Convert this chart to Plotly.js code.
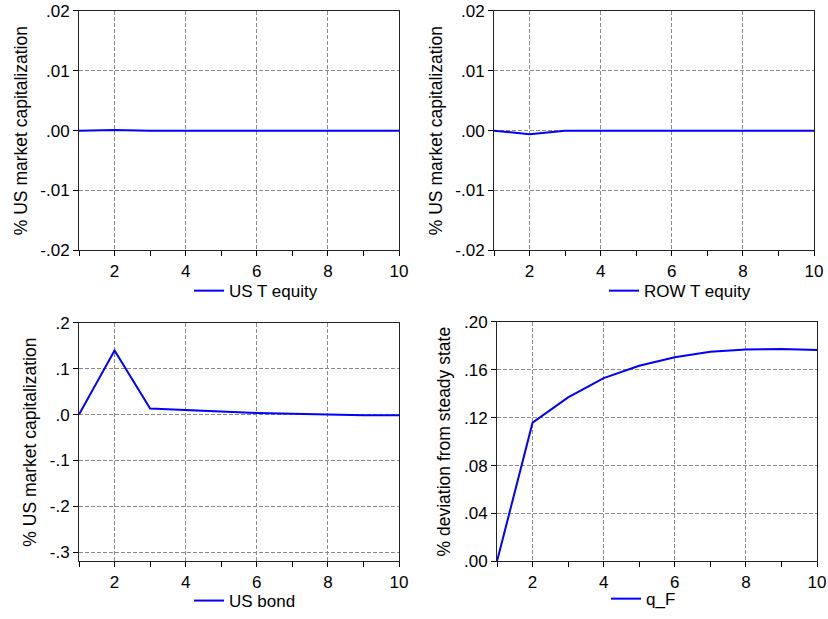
<!DOCTYPE html>
<html>
<head>
<meta charset="utf-8">
<script src="https://cdn.plot.ly/plotly-3.0.1.min.js"></script>
<style>html,body{margin:0;padding:0;background:#fff;}#chart{width:828px;height:619px;}</style>
</head>
<body>
<div id="chart"></div>
<script>
// ---- data ----
const periods = [1, 2, 3, 4, 5, 6, 7, 8, 9, 10];
const usTEquity = [0, 0.0001, 0, 0, 0, 0, 0, 0, 0, 0];
const rowTEquity = [0, -0.0006, 0, 0, 0, 0, 0, 0, 0, 0];
const usBond = [0, 0.140, 0.0135, 0.010, 0.0072, 0.0036, 0.002, 0.0002, -0.0012, -0.0014];
const qF = [0, 0.1158, 0.137, 0.153, 0.1634, 0.1704, 0.1751, 0.177, 0.1773, 0.1765];

const seriesNames = ["US T equity", "ROW T equity", "US bond", "q_F"];
const yTitles = ["% US market capitalization", "% US market capitalization", "% US market capitalization", "% deviation from steady state"];
const yTickVals1 = [-0.02, -0.01, 0, 0.01, 0.02];
const yTickText1 = ["-.02", "-.01", ".00", ".01", ".02"];
const yTickVals3 = [-0.3, -0.2, -0.1, 0, 0.1, 0.2];
const yTickText3 = ["-.3", "-.2", "-.1", ".0", ".1", ".2"];
const yTickVals4 = [0, 0.04, 0.08, 0.12, 0.16, 0.20];
const yTickText4 = [".00", ".04", ".08", ".12", ".16", ".20"];
const xTickVals = [2, 4, 6, 8, 10];
const xTickText = ["2", "4", "6", "8", "10"];

const FONT = "Liberation Sans, Arial, sans-serif";
const W = 828, H = 619;
const px = v => v / W;
const py = v => 1 - v / H;

const allY = [usTEquity, rowTEquity, usBond, qF];
const traces = allY.map((y, i) => ({
  x: periods, y: y, type: "scatter", mode: "lines",
  name: seriesNames[i],
  line: {color: "#0000ff", width: 2},
  xaxis: i === 0 ? "x" : "x" + (i + 1),
  yaxis: i === 0 ? "y" : "y" + (i + 1),
  legend: i === 0 ? "legend" : "legend" + (i + 1),
  showlegend: true
}));

const GRID = "#8a8a8a";
function xa(d0, d1, anchor) {
  return {
    domain: [px(d0), px(d1)], anchor: anchor, range: [1, 10],
    tickmode: "array", tickvals: xTickVals, ticktext: xTickText,
    ticks: "outside", ticklen: 5, tickcolor: "#000", tickwidth: 1,
    minor: {tickmode: "linear", tick0: 1, dtick: 1, ticks: "outside", ticklen: 5, tickcolor: "#000", showgrid: false},
    showline: true, mirror: true, linecolor: "#222", linewidth: 1,
    showgrid: true, gridcolor: GRID, griddash: "4px,2px", gridwidth: 1,
    zeroline: false, tickfont: {family: FONT, size: 17, color: "#000"},
    fixedrange: true
  };
}
function ya(top, bottom, anchor, range, tv, tt, title) {
  return {
    domain: [py(bottom), py(top)], anchor: anchor, range: range,
    tickmode: "array", tickvals: tv, ticktext: tt,
    ticks: "outside", ticklen: 5, tickcolor: "#000", tickwidth: 1,
    showline: true, mirror: true, linecolor: "#222", linewidth: 1,
    showgrid: true, gridcolor: GRID, griddash: "4px,2px", gridwidth: 1,
    zeroline: false, tickfont: {family: FONT, size: 17, color: "#000"},
    title: {text: title, font: {family: FONT, size: 17.5, color: "#000"}, standoff: 8},
    fixedrange: true
  };
}
function lg(xLeft, yc) {
  return {
    x: px(xLeft), y: py(yc), xanchor: "left", yanchor: "middle",
    xref: "paper", yref: "paper",
    font: {family: FONT, size: 17, color: "#000"},
    bgcolor: "rgba(0,0,0,0)", borderwidth: 0
  };
}

const layout = {
  width: W, height: H,
  margin: {l: 0, r: 0, t: 0, b: 0},
  paper_bgcolor: "#fff", plot_bgcolor: "#fff",
  font: {family: FONT, size: 17, color: "#000"},
  xaxis: xa(79, 399, "y"),
  yaxis: ya(11, 252, "x", [-0.02, 0.02], yTickVals1, yTickText1, yTitles[0]),
  xaxis2: xa(494, 814, "y2"),
  yaxis2: ya(11, 252, "x2", [-0.02, 0.02], yTickVals1, yTickText1, yTitles[1]),
  xaxis3: xa(79, 399, "y3"),
  yaxis3: ya(325, 565, "x3", [-0.32, 0.2], yTickVals3, yTickText3, yTitles[2]),
  xaxis4: xa(497, 817, "y4"),
  yaxis4: ya(324, 565, "x4", [0, 0.2], yTickVals4, yTickText4, yTitles[3]),
  legend: lg(189, 293),
  legend2: lg(604, 293),
  legend3: lg(189, 605),
  legend4: lg(606, 603)
};

Plotly.newPlot("chart", traces, layout, {displayModeBar: false, staticPlot: true});
</script>
</body>
</html>
